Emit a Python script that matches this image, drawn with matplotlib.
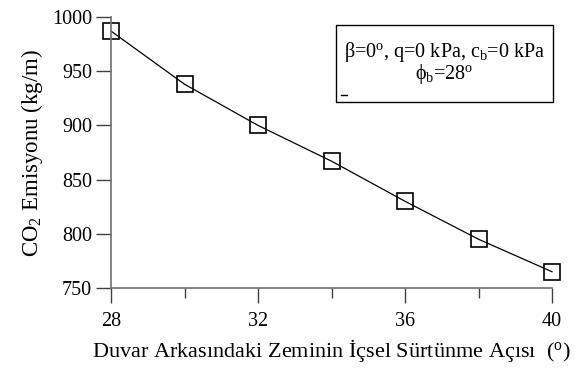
import matplotlib
matplotlib.use("Agg")
import matplotlib.pyplot as plt
from matplotlib.patches import Rectangle

plt.rcParams['font.family'] = ['Liberation Serif', 'DejaVu Serif']
plt.rcParams['mathtext.fontset'] = 'custom'
plt.rcParams['mathtext.rm'] = 'Liberation Serif'
plt.rcParams['mathtext.it'] = 'Liberation Serif:italic'

x_vals = [28, 30, 32, 34, 36, 38, 40]
co2 = [987, 938, 900, 867, 830, 795, 765]
x_ticks = [28, 32, 36, 40]
x_minor = [30, 34, 38]
y_ticks = [750, 800, 850, 900, 950, 1000]

fig = plt.figure(figsize=(5.77, 3.69), dpi=100)
ax = fig.add_axes([111/577, 1-288/369, (552-111)/577, (288-17)/369])

ax.plot(x_vals, co2, color='black', lw=0.9, marker='s', markersize=11,
        markerfacecolor='none', markeredgecolor='black', markeredgewidth=1.2, clip_on=False)

ax.set_xlim(28, 40)
ax.set_ylim(750, 1000)
ax.set_xticks(x_ticks)
ax.set_xticks(x_minor, minor=True)
ax.set_yticks(y_ticks)
for s in ['top', 'right']:
    ax.spines[s].set_visible(False)
for s in ['left', 'bottom']:
    ax.spines[s].set_color('#707070')
    ax.spines[s].set_linewidth(1.2)
ax.tick_params(axis='both', which='major', direction='out', length=11, width=1.0,
               color='#404040', labelsize=14.5, pad=2.5)
ax.tick_params(axis='x', which='minor', direction='out', length=7, width=1.0, color='#404040')
ax.tick_params(axis='x', which='major', pad=6)

ax.set_ylabel(r'CO$_\mathrm{2}$ Emisyonu (kg/m)', fontsize=16.5)
ax.yaxis.set_label_coords(-0.15, 0.5)
ax.set_xlabel(r'Duvar Arkasındaki Zeminin İçsel Sürtünme Açısı  ($^\mathrm{o}$)', fontsize=16)
ax.xaxis.set_label_coords(0.5, -0.18)

# annotation box
bx0, by0, bx1, by1 = 336/577, 1-102/369, 553/577, 1-25/369
fig.patches.append(Rectangle((bx0, by0), bx1-bx0, by1-by0, transform=fig.transFigure,
                             fill=True, facecolor='white', edgecolor='black', lw=1.0))
fig.text((bx0+bx1)/2, 1-57/369, r'β=0$^\mathrm{o}$, q=0 kPa, c$_\mathrm{b}$=0 kPa',
         ha='center', va='baseline', fontsize=14.5)
fig.text((bx0+bx1)/2, 1-79/369, r'ϕ$_\mathrm{b}$=28$^\mathrm{o}$', ha='center', va='baseline', fontsize=14.5)
fig.lines.append(plt.Line2D([341/577, 347/577], [1-95/369, 1-95/369], transform=fig.transFigure,
                            color='black', lw=1.0))

fig.savefig('out.png', dpi=100)
